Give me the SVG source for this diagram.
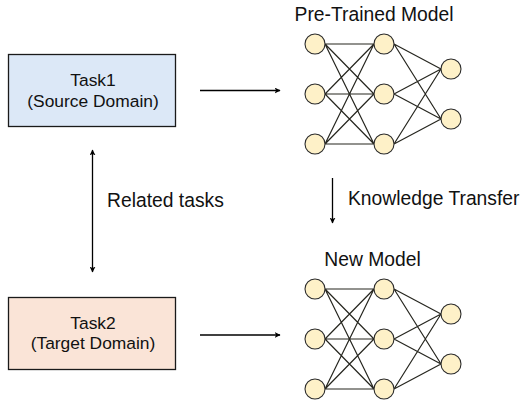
<svg xmlns="http://www.w3.org/2000/svg" width="521" height="407" viewBox="0 0 521 407">
<style>
text{font-family:"Liberation Sans",Arial,Helvetica,sans-serif;fill:#111}
.lbl{font-size:19.3px}
.task{font-size:17.4px;text-anchor:middle}
.box{stroke:#1a1a1a;stroke-width:1.3}
.n{fill:#fef1c8;stroke:#2b2b2b;stroke-width:1.1}
.e{stroke:#26261f;stroke-width:1.2;fill:none}
.a{stroke:#000;stroke-width:1.3;fill:none}
</style>
<defs>
<marker id="ah" viewBox="0 0 10 10" refX="9" refY="5" markerWidth="6" markerHeight="6" orient="auto-start-reverse" markerUnits="userSpaceOnUse">
<path d="M0,0 L10,5 L0,10 L2.5,5 Z" fill="#000"/>
</marker>
<g id="net">
<g class="e">
<path d="M325,44 L374,44 M325,44 L374,94 M325,44 L374,144 M325,94 L374,44 M325,94 L374,94 M325,94 L374,144 M325,144 L374,44 M325,144 L374,94 M325,144 L374,144"/>
<path d="M394,44 L441,69 M394,44 L441,119 M394,94 L441,69 M394,94 L441,119 M394,144 L441,69 M394,144 L441,119"/>
</g>
<circle class="n" cx="315" cy="44" r="10"/>
<circle class="n" cx="315" cy="94" r="10"/>
<circle class="n" cx="315" cy="144" r="10"/>
<circle class="n" cx="384" cy="44" r="10"/>
<circle class="n" cx="384" cy="94" r="10"/>
<circle class="n" cx="384" cy="144" r="10"/>
<circle class="n" cx="451" cy="69" r="10"/>
<circle class="n" cx="451" cy="119" r="10"/>
</g>
</defs>
<g id="task1">
<rect class="box" x="8.5" y="54.5" width="167" height="72" fill="#dce8f7"/>
<text class="task" x="93" y="86">Task1</text>
<text class="task" x="93" y="106.5">(Source Domain)</text>
</g>
<g id="task2">
<rect class="box" x="8.5" y="297.5" width="167" height="72" fill="#fae4d7"/>
<text class="task" x="93" y="329">Task2</text>
<text class="task" x="93" y="349">(Target Domain)</text>
</g>
<g id="pretrained">
<text class="lbl" x="374" y="20.5" text-anchor="middle">Pre-Trained Model</text>
<use href="#net"/>
</g>
<g id="newmodel">
<text class="lbl" x="372.5" y="266" text-anchor="middle">New Model</text>
<use href="#net" transform="translate(0,245)"/>
</g>
<g id="connectors">
<path class="a" d="M200,90.5 L280,90.5" marker-end="url(#ah)"/>
<path class="a" d="M200,335 L280,335" marker-end="url(#ah)"/>
<path class="a" d="M92.5,150 L92.5,272" marker-start="url(#ah)" marker-end="url(#ah)"/>
<path class="a" d="M332.5,178 L332.5,223" marker-end="url(#ah)"/>
<text class="lbl" x="107" y="206.5">Related tasks</text>
<text class="lbl" x="348" y="205">Knowledge Transfer</text>
</g>
</svg>
